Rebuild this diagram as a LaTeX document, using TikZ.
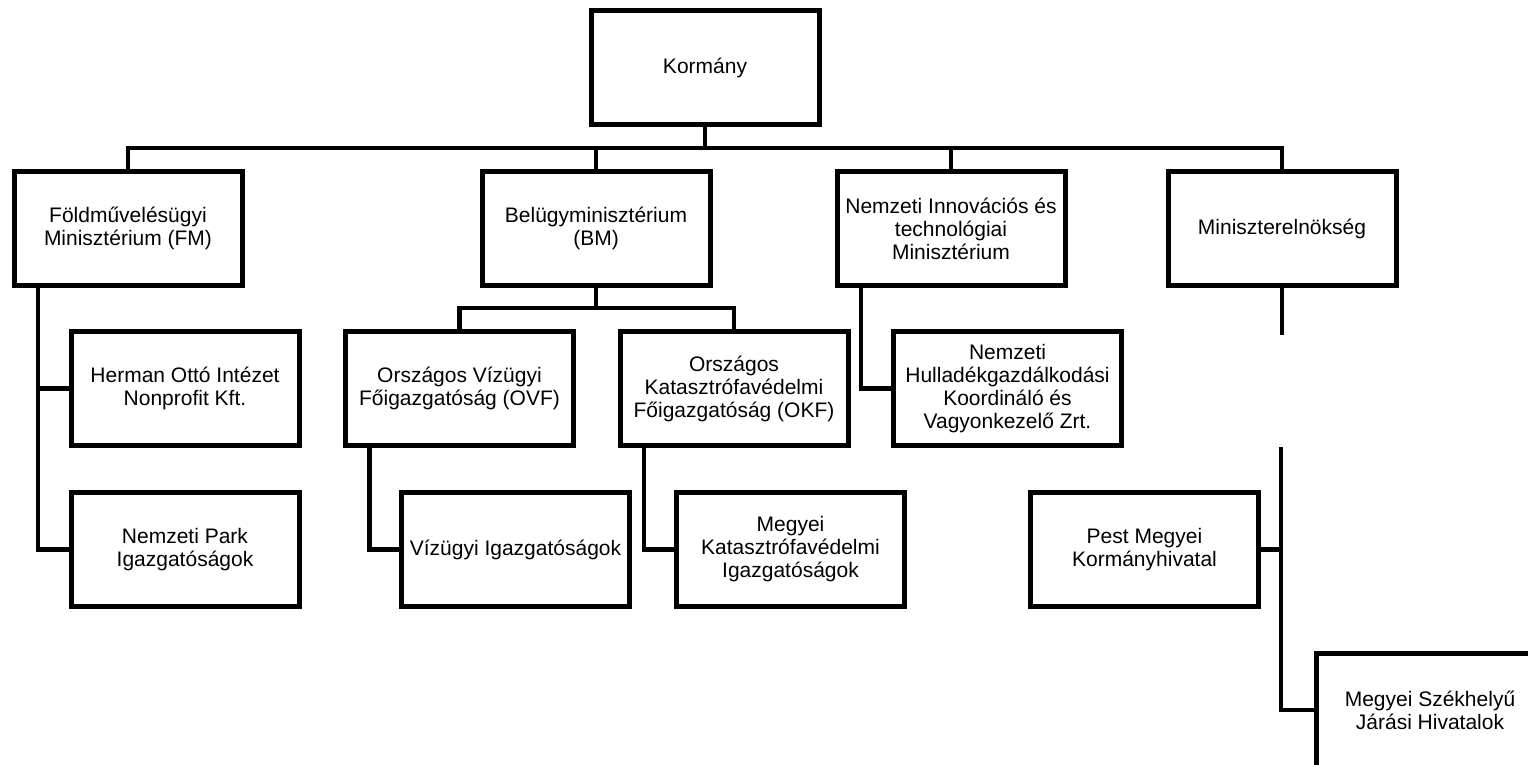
\documentclass[tikz,border=0pt]{standalone}
\usepackage{fontspec}
\setmainfont{Liberation Sans}
\usepackage{tikz}

\tikzset{
    unit/.style={draw, line width=5pt, minimum width=228pt, minimum height=114pt,
        align=center, inner sep=2pt, font=\fontsize{21}{23}\selectfont},
    conn/.style={line width=4.5pt}
}

\begin{document}
\begin{tikzpicture}[x=1pt, y=-1pt]
    \useasboundingbox (0,0) rectangle (1528,765);
    \clip (0,0) rectangle (1528,765);
    \node[unit] (korm) at (705,67.5) {Korm\'any};
    \node[unit] (fm) at (128,228.5) {F\"oldm\H{u}vel\'es\"ugyi\\Miniszt\'erium (FM)};
    \node[unit] (bm) at (596,228.5) {Bel\"ugyminiszt\'erium\\(BM)};
    \node[unit] (nit) at (951,228.5) {Nemzeti Innov\'aci\'os \'es\\technol\'ogiai\\Miniszt\'erium};
    \node[unit] (min) at (1282,228.5) {Minisztereln\"oks\'eg};
    \node[unit] (herman) at (185,388.5) {Herman Ott\'o Int\'ezet\\Nonprofit Kft.};
    \node[unit] (park) at (185,549.5) {Nemzeti Park\\Igazgat\'os\'agok};
    \node[unit] (ovf) at (459.5,388.5) {Orsz\'agos V\'iz\"ugyi\\F\H{o}igazgat\'os\'ag (OVF)};
    \node[unit] (okf) at (734,388.5) {Orsz\'agos\\Katasztr\'ofav\'edelmi\\F\H{o}igazgat\'os\'ag (OKF)};
    \node[unit] (nh) at (1007.5,388.5) {Nemzeti\\Hullad\'ekgazd\'alkod\'asi\\Koordin\'al\'o \'es\\Vagyonkezel\H{o} Zrt.};
    \node[unit] (viz) at (515.5,549.5) {V\'iz\"ugyi Igazgat\'os\'agok};
    \node[unit] (mkat) at (790.5,549.5) {Megyei\\Katasztr\'ofav\'edelmi\\Igazgat\'os\'agok};
    \node[unit] (pest) at (1144.5,549.5) {Pest Megyei\\Korm\'anyhivatal};
    \node[unit] (msz) at (1430,710) {Megyei Sz\'ekhely\H{u}\\J\'ar\'asi Hivatalok};

    % top level
    \coordinate (bus) at (705,148);
    \draw[conn] (korm.south) -- (bus);
    \draw[conn] (fm.north) |- (bus) -| (min.north);
    \draw[conn] (bm.north) -- (bm.north |- bus);
    \draw[conn] (nit.north) -- (nit.north |- bus);
    % BM
    \coordinate (subbus) at (596,308);
    \draw[conn] (bm.south) -- (subbus);
    \draw[conn] (ovf.north) |- (subbus) -| (okf.north);
    % side legs
    \draw[conn] ([xshift=-90pt]fm.south) |- (herman.west);
    \draw[conn] ([xshift=-90pt]fm.south) |- (park.west);
    \draw[conn] ([xshift=-90pt]ovf.south) |- (viz.west);
    \draw[conn] ([xshift=-90pt]okf.south) |- (mkat.west);
    \draw[conn] ([xshift=-90pt]nit.south) |- (nh.west);
    % Miniszterelnokseg
    \coordinate (gap) at (1281,447);
    \draw[conn] (min.south) -- ++(0,47);
    \draw[conn] (gap) |- (msz.west);
    \draw[conn] (pest.east) -- (pest.east -| gap);
\end{tikzpicture}
\end{document}
